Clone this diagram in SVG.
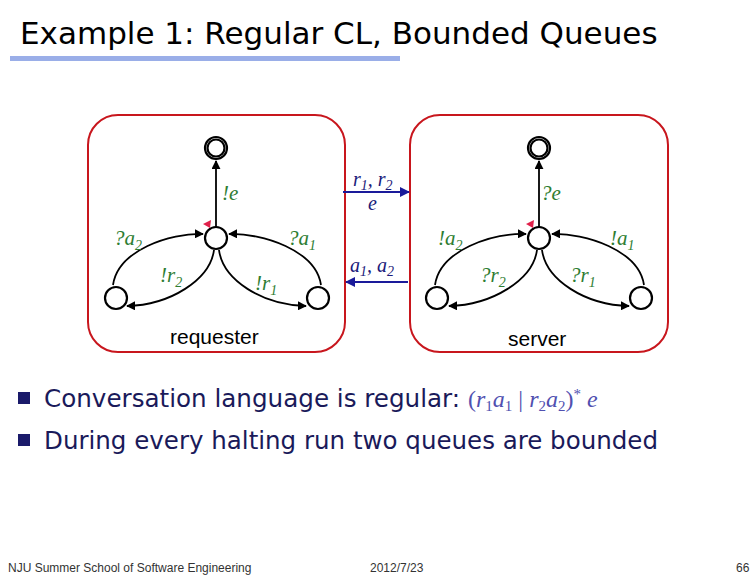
<svg xmlns="http://www.w3.org/2000/svg" width="756" height="576" viewBox="0 0 756 576">
<style>
.box{fill:none;stroke:#c8161d;stroke-width:2}
.st{fill:#fff;stroke:#000;stroke-width:2.2}
.ed{fill:none;stroke:#000;stroke-width:1.8}
.lb{font-family:"Liberation Serif",serif;font-style:italic;font-size:21px;fill:#2e7d32}
.bl{font-family:"Liberation Serif",serif;font-style:italic;font-size:20px;fill:#1a1a7a}
.sub{font-size:14px}
.ch{stroke:#1a1a9a;stroke-width:2;fill:none}
.nm{font-family:"Liberation Sans",sans-serif;font-size:21px;fill:#000}
.bt{font-family:"DejaVu Sans Condensed","DejaVu Sans",sans-serif;font-size:25px;fill:#1a1a5a}
.ft{font-family:"Liberation Sans",sans-serif;font-size:12px;fill:#333}
</style>
<defs>
<marker id="ah" viewBox="0 0 10 10" refX="9" refY="5" markerWidth="5" markerHeight="5" orient="auto"><path d="M0,0L10,5L0,10z" fill="#000"/></marker>
<marker id="bh" viewBox="0 0 10 10" refX="9" refY="5" markerWidth="5" markerHeight="5" orient="auto"><path d="M0,0L10,5L0,10z" fill="#1a1a9a"/></marker>
</defs>
<rect width="756" height="576" fill="#fff"/>
<text x="20" y="44" font-family="'Comic Sans MS','DejaVu Sans',sans-serif" font-size="31" fill="#000">Example 1: Regular CL, Bounded Queues</text>
<rect x="10" y="56" width="390" height="5" fill="#9aaee8"/>

<g id="requester">
<rect class="box" x="88" y="115" width="257" height="237" rx="30"/>
<g class="ed">
<path d="M216,227 L216,161" marker-end="url(#ah)"/>
<path d="M113,285 C118,250 170,233 203,234" marker-end="url(#ah)"/>
<path d="M214,250 C210,280 170,305 127,306" marker-end="url(#ah)"/>
<path d="M321,285 C316,250 262,233 229,234" marker-end="url(#ah)"/>
<path d="M219,250 C223,280 262,305 306,306" marker-end="url(#ah)"/>
</g>
<circle class="st" cx="216" cy="148" r="11"/><circle class="st" cx="216" cy="148" r="8.5"/>
<circle class="st" cx="216" cy="238" r="11"/>
<circle class="st" cx="116" cy="298" r="11"/>
<circle class="st" cx="318" cy="298" r="11"/>
<path d="M203,224 L211,220 L210,228z" fill="#e0204a"/>
<text class="lb" x="222" y="200">!e</text>
<text class="lb" x="114" y="245">?a<tspan class="sub" dy="5">2</tspan></text>
<text class="lb" x="288" y="245">?a<tspan class="sub" dy="5">1</tspan></text>
<text class="lb" x="160" y="282">!r<tspan class="sub" dy="5">2</tspan></text>
<text class="lb" x="255" y="290">!r<tspan class="sub" dy="5">1</tspan></text>
<text class="nm" x="170" y="344">requester</text>
</g>

<g id="server">
<rect class="box" x="410" y="115" width="258" height="237" rx="30"/>
<g class="ed">
<path d="M539,227 L539,161" marker-end="url(#ah)"/>
<path d="M435,285 C440,250 492,233 526,234" marker-end="url(#ah)"/>
<path d="M537,250 C533,280 492,305 449,306" marker-end="url(#ah)"/>
<path d="M644,285 C639,250 585,233 552,234" marker-end="url(#ah)"/>
<path d="M542,250 C546,280 585,305 629,306" marker-end="url(#ah)"/>
</g>
<circle class="st" cx="539" cy="148" r="11"/><circle class="st" cx="539" cy="148" r="8.5"/>
<circle class="st" cx="539" cy="238" r="11"/>
<circle class="st" cx="437" cy="298" r="11"/>
<circle class="st" cx="641" cy="298" r="11"/>
<path d="M526,224 L534,220 L533,228z" fill="#e0204a"/>
<text class="lb" x="541" y="200">?e</text>
<text class="lb" x="438" y="245">!a<tspan class="sub" dy="5">2</tspan></text>
<text class="lb" x="610" y="245">!a<tspan class="sub" dy="5">1</tspan></text>
<text class="lb" x="480" y="282">?r<tspan class="sub" dy="5">2</tspan></text>
<text class="lb" x="570" y="282">?r<tspan class="sub" dy="5">1</tspan></text>
<text class="nm" x="508" y="346">server</text>
</g>

<g id="connectors">
<path class="ch" d="M343,192 L409,192" marker-end="url(#bh)"/>
<path class="ch" d="M408,282 L346,282" marker-end="url(#bh)"/>
<text class="bl" x="353" y="186">r<tspan class="sub" dy="4">1</tspan><tspan dy="-4">, r</tspan><tspan class="sub" dy="4">2</tspan></text>
<text class="bl" x="368" y="210">e</text>
<text class="bl" x="350" y="272">a<tspan class="sub" dy="4">1</tspan><tspan dy="-4">, a</tspan><tspan class="sub" dy="4">2</tspan></text>
</g>

<rect x="18" y="392" width="12" height="12" fill="#1a1a6a"/>
<text class="bt" x="44" y="407" textLength="416" lengthAdjust="spacingAndGlyphs">Conversation language is regular:</text>
<text x="468" y="407" font-family="'Liberation Serif',serif" font-size="24" fill="#5050b0">(<tspan font-style="italic">r</tspan><tspan font-size="15" dy="4">1</tspan><tspan font-style="italic" dy="-4">a</tspan><tspan font-size="15" dy="4">1</tspan><tspan dy="-4"> | </tspan><tspan font-style="italic">r</tspan><tspan font-size="15" dy="4">2</tspan><tspan font-style="italic" dy="-4">a</tspan><tspan font-size="15" dy="4">2</tspan><tspan dy="-4">)</tspan><tspan font-size="15" dy="-8">*</tspan><tspan font-style="italic" dy="8"> e</tspan></text>
<rect x="18" y="434" width="12" height="12" fill="#1a1a6a"/>
<text class="bt" x="44" y="449" textLength="614" lengthAdjust="spacingAndGlyphs">During every halting run two queues are bounded</text>

<text class="ft" x="8" y="572">NJU Summer School of Software Engineering</text>
<text class="ft" x="370" y="572">2012/7/23</text>
<text class="ft" x="736" y="572">66</text>
</svg>
